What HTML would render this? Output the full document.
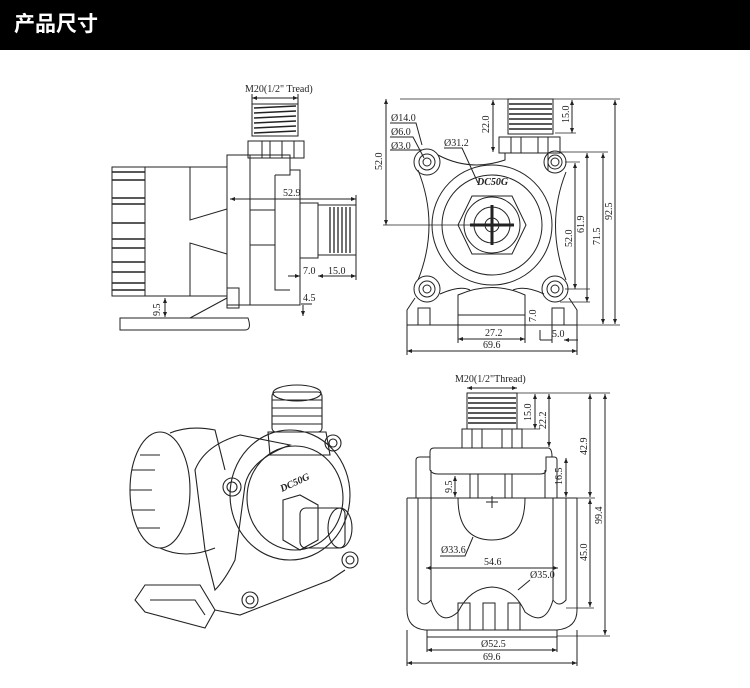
<!DOCTYPE html>
<html><head><meta charset="utf-8"><style>
body{margin:0;width:750px;height:688px;background:#fff;overflow:hidden}
.hd{position:absolute;left:0;top:0;width:750px;height:50px;background:#000;color:#fff;font:bold 21px "Liberation Sans","Noto Sans CJK SC",sans-serif;line-height:50px;padding-left:14px;box-sizing:border-box}
svg{position:absolute;left:0;top:0}
text{font-family:"Liberation Serif",serif;font-size:10px;fill:#222}
</style></head><body>
<div class="hd">产品尺寸</div>
<svg width="750" height="688" viewBox="0 0 750 688" fill="none" stroke="#222" stroke-width="1">
<defs><marker id="a" markerWidth="6" markerHeight="6" refX="5" refY="3" orient="auto-start-reverse"><path d="M0,1 L5,3 L0,5" fill="#222" stroke="none"/></marker></defs>
<!-- ===== side view ===== -->
<text x="245" y="92" stroke="none">M20(1/2" Tread)</text>
<line x1="252" y1="98" x2="298" y2="98" marker-start="url(#a)" marker-end="url(#a)"/>
<line x1="252" y1="94" x2="252" y2="104"/><line x1="298" y1="94" x2="298" y2="104"/>
<rect x="252" y="104" width="46" height="32"/>
<g stroke-width="1.5"><line x1="254" y1="108" x2="296" y2="106"/><line x1="254" y1="113" x2="296" y2="111"/><line x1="254" y1="118" x2="296" y2="116"/><line x1="254" y1="123" x2="296" y2="121"/><line x1="254" y1="128" x2="296" y2="126"/><line x1="254" y1="133" x2="296" y2="131"/></g>
<rect x="248" y="141" width="56" height="17"/><line x1="262" y1="141" x2="262" y2="158"/><line x1="270" y1="141" x2="270" y2="158"/><line x1="282" y1="141" x2="282" y2="158"/><line x1="294" y1="141" x2="294" y2="158"/>
<rect x="112" y="167" width="33" height="129"/>
<g stroke-width="1.5"><line x1="112" y1="172" x2="145" y2="172"/><line x1="112" y1="180" x2="145" y2="180"/><line x1="112" y1="198" x2="145" y2="198"/><line x1="112" y1="204" x2="145" y2="204"/><line x1="112" y1="223" x2="145" y2="223"/><line x1="112" y1="239" x2="145" y2="239"/><line x1="112" y1="248" x2="145" y2="248"/><line x1="112" y1="262" x2="145" y2="262"/><line x1="112" y1="272" x2="145" y2="272"/><line x1="112" y1="283" x2="145" y2="283"/><line x1="112" y1="290" x2="145" y2="290"/></g>
<rect x="145" y="167" width="82" height="129"/>
<path d="M190 167 V220 L227 209 M190 296 V243 L227 254"/>
<path d="M227 155 H250 V305 H227 Z"/>
<path d="M250 155 H290 V170 H300 V305 H250"/>
<path d="M275 175 V290 H290" /><path d="M275 175 H290 V170"/>
<line x1="250" y1="210" x2="275" y2="210"/><line x1="250" y1="245" x2="275" y2="245"/>
<rect x="300" y="203" width="18" height="55"/>
<rect x="318" y="205" width="38" height="50"/>
<g stroke-width="1.3"><line x1="330" y1="207" x2="330" y2="253"/><line x1="334" y1="207" x2="334" y2="253"/><line x1="338" y1="207" x2="338" y2="253"/><line x1="342" y1="207" x2="342" y2="253"/><line x1="346" y1="207" x2="346" y2="253"/><line x1="350" y1="207" x2="350" y2="253"/></g>
<rect x="227" y="288" width="12" height="20"/>
<path d="M190 318 L227 298"/>
<path d="M120 318 H248 Q252 330 245 330 H120 Z"/>
<line x1="230" y1="199" x2="356" y2="199" marker-start="url(#a)" marker-end="url(#a)"/><text x="283" y="196" stroke="none">52.9</text>
<line x1="356" y1="195" x2="356" y2="280"/>
<line x1="288" y1="276" x2="300" y2="276" marker-end="url(#a)"/><text x="303" y="274" stroke="none">7.0</text>
<line x1="318" y1="276" x2="356" y2="276" marker-start="url(#a)" marker-end="url(#a)"/><text x="328" y="274" stroke="none">15.0</text>
<line x1="165" y1="298" x2="165" y2="317" marker-start="url(#a)" marker-end="url(#a)"/><text x="160" y="316" transform="rotate(-90 160 316)" stroke="none">9.5</text>
<text x="303" y="301" stroke="none">4.5</text><line x1="301" y1="304" x2="312" y2="304"/><line x1="303" y1="305" x2="303" y2="316" marker-end="url(#a)"/>
<!-- ===== front view ===== -->
<line x1="400" y1="99" x2="620" y2="99" stroke-width=".7"/>
<rect x="508" y="99" width="45" height="35"/>
<g stroke-width="1.5"><line x1="509" y1="104" x2="552" y2="104"/><line x1="509" y1="109" x2="552" y2="109"/><line x1="509" y1="114" x2="552" y2="114"/><line x1="509" y1="119" x2="552" y2="119"/><line x1="509" y1="124" x2="552" y2="124"/><line x1="509" y1="129" x2="552" y2="129"/></g>
<rect x="499" y="137" width="61" height="16"/><line x1="511" y1="137" x2="511" y2="153"/><line x1="521" y1="137" x2="521" y2="153"/><line x1="538" y1="137" x2="538" y2="153"/><line x1="548" y1="137" x2="548" y2="153"/>
<path d="M438 155 Q470 172 505 160 V153"/>
<path d="M418 170 Q440 225 418 280"/>
<path d="M566 172 Q545 225 566 280"/>
<path d="M415 298 L407 310 V325 H577 V310 L569 298"/>
<path d="M440 294 Q460 285 470 290 M513 290 Q525 285 544 294"/>
<path d="M548 170 V152"/>
<circle cx="492" cy="225" r="60"/><circle cx="492" cy="225" r="50"/>
<path d="M472 196 H512 L526 225 L512 254 H472 L458 225 Z"/>
<circle cx="492" cy="225" r="28"/><circle cx="492" cy="225" r="18"/><circle cx="492" cy="225" r="7"/>
<line x1="470" y1="225" x2="514" y2="225" stroke-width="3"/><line x1="492" y1="205" x2="492" y2="245" stroke-width="3"/>
<g><circle cx="427" cy="162" r="13"/><circle cx="427" cy="162" r="8"/><circle cx="427" cy="162" r="4"/>
<circle cx="555" cy="162" r="11"/><circle cx="555" cy="162" r="7"/><circle cx="555" cy="162" r="4"/>
<circle cx="427" cy="289" r="13"/><circle cx="427" cy="289" r="8"/><circle cx="427" cy="289" r="4"/>
<circle cx="555" cy="289" r="13"/><circle cx="555" cy="289" r="8"/><circle cx="555" cy="289" r="4"/></g>
<path d="M458 325 V295 Q492 280 525 295 V325"/><line x1="458" y1="315" x2="525" y2="315"/>
<rect x="418" y="308" width="12" height="17"/><rect x="552" y="308" width="12" height="17"/>
<text x="477" y="185" stroke="none" font-style="italic" font-weight="bold" font-size="9">DC50G</text>
<text x="391" y="121" stroke="none" font-size="9">Ø14.0</text><text x="391" y="135" stroke="none" font-size="9">Ø6.0</text><text x="391" y="149" stroke="none" font-size="9">Ø3.0</text>
<path d="M390 123 H416 L422 145 M390 137 H413 L424 158 M390 150 H422"/>
<text x="444" y="146" stroke="none" font-size="9">Ø31.2</text><path d="M444 148 H462 L478 183"/>
<line x1="386" y1="99" x2="386" y2="225" marker-start="url(#a)" marker-end="url(#a)"/><line x1="383" y1="225" x2="480" y2="225" stroke-width=".7"/>
<text x="382" y="170" transform="rotate(-90 382 170)" stroke="none">52.0</text>
<line x1="493" y1="100" x2="493" y2="152" marker-start="url(#a)" marker-end="url(#a)"/><text x="489" y="133" transform="rotate(-90 489 133)" stroke="none">22.0</text>
<line x1="572" y1="100" x2="572" y2="133" marker-start="url(#a)" marker-end="url(#a)"/><text x="569" y="123" transform="rotate(-90 569 123)" stroke="none">15.0</text>
<line x1="555" y1="133" x2="576" y2="133" stroke-width=".7"/>
<line x1="560" y1="152" x2="608" y2="152" stroke-width=".7"/><line x1="565" y1="162" x2="580" y2="162" stroke-width=".7"/>
<line x1="575" y1="163" x2="575" y2="289" marker-start="url(#a)" marker-end="url(#a)"/><text x="572" y="247" transform="rotate(-90 572 247)" stroke="none">52.0</text>
<line x1="587" y1="153" x2="587" y2="302" marker-start="url(#a)" marker-end="url(#a)"/><text x="584" y="233" transform="rotate(-90 584 233)" stroke="none">61.9</text>
<line x1="603" y1="153" x2="603" y2="324" marker-start="url(#a)" marker-end="url(#a)"/><text x="600" y="245" transform="rotate(-90 600 245)" stroke="none">71.5</text>
<line x1="615" y1="100" x2="615" y2="324" marker-start="url(#a)" marker-end="url(#a)"/><text x="612" y="220" transform="rotate(-90 612 220)" stroke="none">92.5</text>
<line x1="565" y1="289" x2="590" y2="289" stroke-width=".7"/><line x1="560" y1="302" x2="590" y2="302" stroke-width=".7"/><line x1="577" y1="325" x2="620" y2="325" stroke-width=".7"/>
<line x1="458" y1="325" x2="458" y2="343"/><line x1="525" y1="325" x2="525" y2="343"/><line x1="407" y1="325" x2="407" y2="355"/><line x1="577" y1="325" x2="577" y2="355"/>
<line x1="458" y1="339" x2="525" y2="339" marker-start="url(#a)" marker-end="url(#a)"/><text x="485" y="336" stroke="none">27.2</text>
<line x1="407" y1="351" x2="577" y2="351" marker-start="url(#a)" marker-end="url(#a)"/><text x="483" y="348" stroke="none">69.6</text>
<text x="536" y="322" transform="rotate(-90 536 322)" stroke="none">7.0</text><line x1="540" y1="330" x2="540" y2="340" /><line x1="540" y1="340" x2="552" y2="340"/>
<text x="552" y="337" stroke="none">5.0</text><line x1="552" y1="325" x2="552" y2="343"/><line x1="564" y1="340" x2="578" y2="340" marker-start="url(#a)"/>
<!-- ===== bottom-right view ===== -->
<text x="455" y="382" stroke="none" font-family="Liberation Sans,sans-serif" font-size="10">M20(1/2"Thread)</text>
<line x1="467" y1="388" x2="517" y2="388" marker-start="url(#a)" marker-end="url(#a)"/>
<rect x="467" y="393" width="50" height="36"/>
<g stroke-width="1.5"><line x1="468" y1="398" x2="516" y2="398"/><line x1="468" y1="403" x2="516" y2="403"/><line x1="468" y1="408" x2="516" y2="408"/><line x1="468" y1="413" x2="516" y2="413"/><line x1="468" y1="418" x2="516" y2="418"/><line x1="468" y1="423" x2="516" y2="423"/></g>
<rect x="462" y="429" width="60" height="19"/><line x1="472" y1="429" x2="472" y2="448"/><line x1="482" y1="429" x2="482" y2="448"/><line x1="502" y1="429" x2="502" y2="448"/><line x1="512" y1="429" x2="512" y2="448"/>
<path d="M430 457 V452 Q430 448 434 448 H548 Q552 448 552 457"/>
<path d="M416 498 V460 Q416 457 420 457 H430 V470 Q432 474 438 474 H540 Q546 474 546 470 V457 H554 Q557 457 557 460 V498"/>
<line x1="431" y1="470" x2="431" y2="498"/><line x1="545" y1="470" x2="545" y2="498"/>
<line x1="470" y1="474" x2="470" y2="498"/><line x1="478" y1="474" x2="478" y2="498"/><line x1="505" y1="474" x2="505" y2="498"/><line x1="512" y1="474" x2="512" y2="498"/>
<line x1="407" y1="498" x2="577" y2="498"/>
<path d="M407 498 V610 Q407 628 425 630 L557 630 Q577 628 577 610 V498"/>
<path d="M418 498 V600 Q424 608 431 600 V498"/><path d="M553 498 V600 Q559 608 566 600 V498"/>
<path d="M458 498 Q458 540 492 540 Q525 540 525 498"/>
<line x1="492" y1="496" x2="492" y2="508"/><line x1="486" y1="502" x2="498" y2="502"/>
<path d="M431 600 Q440 628 458 612 Q470 588 492 587 Q514 588 525 612 Q545 628 553 600"/>
<rect x="458" y="603" width="12" height="27"/><rect x="483" y="603" width="12" height="27"/><rect x="508" y="603" width="12" height="27"/>
<rect x="427" y="630" width="130" height="7"/>
<line x1="535" y1="394" x2="535" y2="429" marker-start="url(#a)" marker-end="url(#a)"/><text x="531" y="421" transform="rotate(-90 531 421)" stroke="none">15.0</text>
<line x1="549" y1="394" x2="549" y2="447" marker-start="url(#a)" marker-end="url(#a)"/><text x="546" y="429" transform="rotate(-90 546 429)" stroke="none">22.2</text>
<line x1="517" y1="393" x2="610" y2="393" stroke-width=".7"/><line x1="518" y1="429" x2="540" y2="429" stroke-width=".7"/>
<line x1="590" y1="394" x2="590" y2="497" marker-start="url(#a)" marker-end="url(#a)"/><text x="587" y="455" transform="rotate(-90 587 455)" stroke="none">42.9</text>
<line x1="605" y1="394" x2="605" y2="635" marker-start="url(#a)" marker-end="url(#a)"/><text x="602" y="524" transform="rotate(-90 602 524)" stroke="none">99.4</text>
<line x1="577" y1="498" x2="595" y2="498" stroke-width=".7"/><line x1="557" y1="636" x2="610" y2="636" stroke-width=".7"/>
<line x1="590" y1="499" x2="590" y2="607" marker-start="url(#a)" marker-end="url(#a)"/><text x="587" y="561" transform="rotate(-90 587 561)" stroke="none">45.0</text>
<line x1="566" y1="608" x2="594" y2="608" stroke-width=".7"/>
<line x1="566" y1="458" x2="566" y2="497" marker-start="url(#a)" marker-end="url(#a)"/><text x="562" y="485" transform="rotate(-90 562 485)" stroke="none">16.5</text>
<line x1="455" y1="476" x2="455" y2="497" marker-start="url(#a)" marker-end="url(#a)"/><text x="452" y="493" transform="rotate(-90 452 493)" stroke="none">9.5</text>
<text x="441" y="553" stroke="none">Ø33.6</text><path d="M440 556 H465 L473 537"/>
<line x1="426" y1="568" x2="558" y2="568" marker-start="url(#a)" marker-end="url(#a)"/><text x="484" y="565" stroke="none">54.6</text>
<text x="530" y="578" stroke="none">Ø35.0</text><path d="M530 580 L518 590"/>
<line x1="427" y1="637" x2="427" y2="652"/><line x1="557" y1="637" x2="557" y2="652"/>
<line x1="427" y1="650" x2="557" y2="650" marker-start="url(#a)" marker-end="url(#a)"/><text x="481" y="647" stroke="none">Ø52.5</text>
<line x1="407" y1="630" x2="407" y2="666"/><line x1="577" y1="630" x2="577" y2="666"/>
<line x1="407" y1="663" x2="577" y2="663" marker-start="url(#a)" marker-end="url(#a)"/><text x="483" y="660" stroke="none">69.6</text>
<!-- ===== 3D view ===== -->
<g stroke-width="1.1">
<ellipse cx="160" cy="490" rx="30" ry="58"/>
<path d="M170 433 Q190 425 215 430 L225 470 M160 548 Q185 560 215 548"/>
<path d="M140 455 H160 M132 470 H155 M130 490 H152 M132 510 H155 M138 528 H160" />
<path d="M195 470 Q205 445 240 435 L290 445 Q250 460 245 485 L235 560 Q225 580 215 590 L205 550 Z"/>
<ellipse cx="290" cy="495" rx="60" ry="65"/><ellipse cx="295" cy="498" rx="48" ry="52"/>
<rect x="272" y="392" width="50" height="40" rx="4"/><ellipse cx="297" cy="393" rx="24" ry="8"/>
<path d="M272 400 H322 M272 408 H322 M272 416 H322 M272 424 H322"/>
<path d="M268 432 H326 L330 455 H270 Z"/>
<path d="M283 500 L300 495 L318 505 L318 540 L300 550 L283 540 Z"/>
<rect x="300" y="508" width="45" height="40" rx="6"/><ellipse cx="340" cy="528" rx="12" ry="20"/>
<circle cx="232" cy="487" r="9"/><circle cx="232" cy="487" r="5"/>
<circle cx="333" cy="443" r="8"/><circle cx="333" cy="443" r="4"/>
<circle cx="350" cy="560" r="8"/><circle cx="350" cy="560" r="4"/>
<circle cx="250" cy="600" r="8"/><circle cx="250" cy="600" r="4"/>
<path d="M135 600 L145 585 L200 585 L215 610 L205 628 L145 612 Z M150 600 L195 600 L205 615"/>
<path d="M215 610 L240 615 L330 580 L345 570"/>
</g>
<text x="282" y="492" stroke="none" font-style="italic" font-weight="bold" font-size="8" transform="rotate(-25 282 492)">DC50G</text>
</svg>
</body></html>
